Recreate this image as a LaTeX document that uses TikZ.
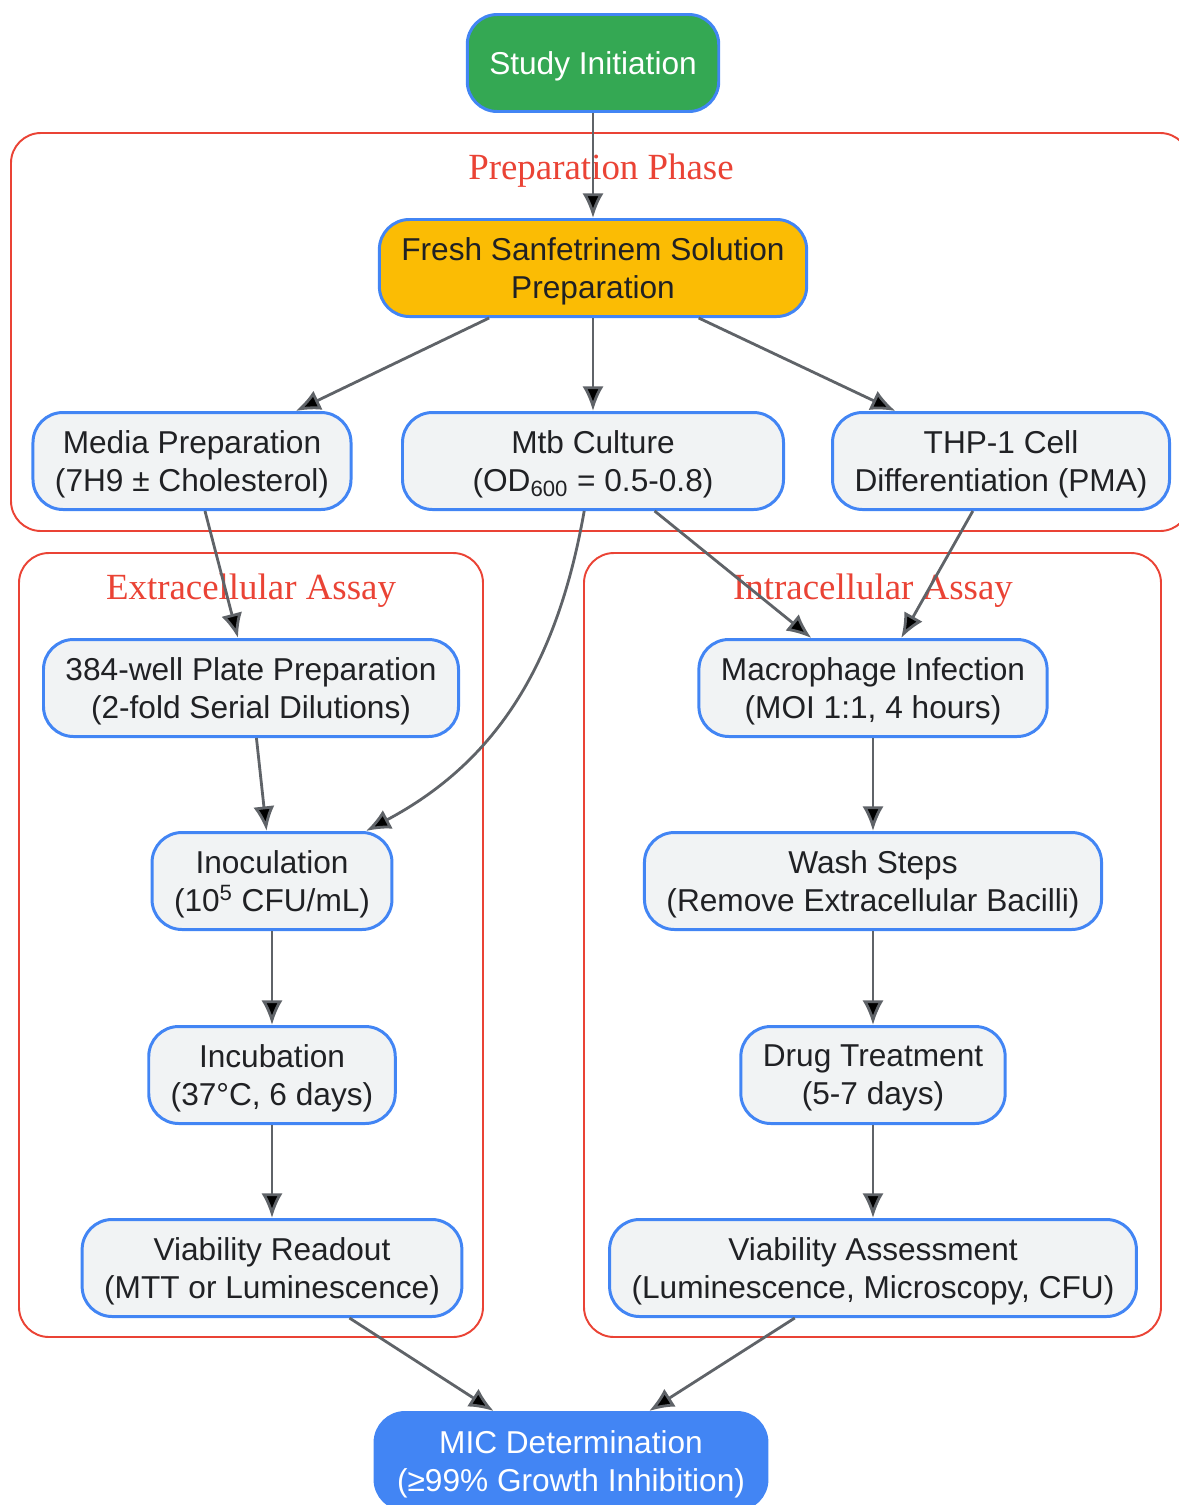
\documentclass[tikz,border=0pt]{standalone}
\usepackage{fontspec}
\setmainfont{Liberation Sans}
\newfontfamily\clusterfont{Liberation Serif}
\usepackage{tikz}
\usetikzlibrary{arrows.meta}
\definecolor{nodeblue}{HTML}{4285F4}
\definecolor{nodegray}{HTML}{F1F3F4}
\definecolor{nodetext}{HTML}{202124}
\definecolor{startgreen}{HTML}{34A853}
\definecolor{prepyellow}{HTML}{FBBC04}
\definecolor{edgegray}{HTML}{5F6368}
\definecolor{clusterred}{HTML}{EA4335}

\begin{document}
\begin{tikzpicture}
\tikzset{stepbox/.style = {shape=rectangle,rounded corners=0.6cm,draw=nodeblue,line width=1.7pt,
  fill=nodegray,text=nodetext,align=center,minimum height=1.94cm,inner xsep=0.44cm,text depth=0pt,
  font=\fontsize{18}{21.6}\selectfont}}
\tikzset{startbox/.style = {stepbox,fill=startgreen,text=white}}
\tikzset{prepbox/.style = {stepbox,fill=prepyellow}}
\tikzset{endbox/.style = {stepbox,fill=nodeblue,text=white}}
\tikzset{cluster/.style = {draw=clusterred,line width=1.1pt,rounded corners=0.6cm}}
\tikzset{clusterlabel/.style = {text=clusterred,font=\clusterfont\fontsize{21}{25}\selectfont}}
\tikzset{edge/.style = {draw=edgegray,line width=1.6pt,-{Latex[length=14pt,width=12pt]}}}
\path[use as bounding box] (0,0) rectangle (23.58,-30.1);
\clip (0,0) rectangle (23.58,-30.1);
% subgraphs
\draw[cluster] (0.22,-2.66) rectangle (23.8,-10.62);
\draw[cluster] (0.38,-11.06) rectangle (9.66,-26.74);
\draw[cluster] (11.68,-11.06) rectangle (23.22,-26.74);
\node[clusterlabel] (preplabel) at (12.02,-3.42) {Preparation Phase};
\node[clusterlabel] (extralabel) at (5.02,-11.82) {Extracellular Assay};
\node[clusterlabel] (intralabel) at (17.46,-11.82) {Intracellular Assay};
% steps
\node[startbox] (start) at (11.86,-1.26) {Study Initiation};
\node[prepbox] (fresh) at (11.86,-5.36) {Fresh Sanfetrinem Solution\\Preparation};
\node[stepbox] (media) at (3.84,-9.22) {Media Preparation\\(7H9 ± Cholesterol)};
\node[stepbox,minimum width=7.62cm] (mtb) at (11.86,-9.22) {Mtb Culture\\(OD\textsubscript{600} = 0.5-0.8)};
\node[stepbox] (thp) at (20.02,-9.22) {THP-1 Cell\\Differentiation (PMA)};
\node[stepbox] (plate) at (5.02,-13.76) {384-well Plate Preparation\\(2-fold Serial Dilutions)};
\node[stepbox] (inoc) at (5.44,-17.62) {Inoculation\\(10\textsuperscript{5} CFU/mL)};
\node[stepbox] (incub) at (5.44,-21.50) {Incubation\\(37°C, 6 days)};
\node[stepbox] (readout) at (5.44,-25.36) {Viability Readout\\(MTT or Luminescence)};
\node[stepbox] (macro) at (17.46,-13.76) {Macrophage Infection\\(MOI 1:1, 4 hours)};
\node[stepbox] (wash) at (17.46,-17.62) {Wash Steps\\(Remove Extracellular Bacilli)};
\node[stepbox] (drug) at (17.46,-21.50) {Drug Treatment\\(5-7 days)};
\node[stepbox] (assess) at (17.46,-25.36) {Viability Assessment\\(Luminescence, Microscopy, CFU)};
\node[endbox] (mic) at (11.42,-29.22) {MIC Determination\\(≥99\% Growth Inhibition)};
% flow
\path[edge]
(start) edge (fresh)
(fresh) edge (media)
(fresh) edge (mtb)
(fresh) edge (thp)
(media) edge (plate)
(mtb) edge [out=-100,in=28] (inoc)
(mtb) edge (macro)
(thp) edge (macro)
(plate) edge (inoc)
(inoc) edge (incub)
(incub) edge (readout)
(macro) edge (wash)
(wash) edge (drug)
(drug) edge (assess)
(readout) edge (mic)
(assess) edge (mic);
\end{tikzpicture}
\end{document}
